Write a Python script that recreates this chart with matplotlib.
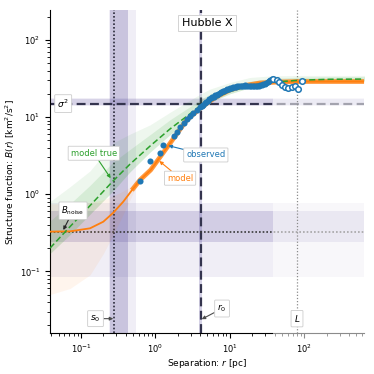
import numpy as np
import matplotlib
matplotlib.use("Agg")
import matplotlib.pyplot as plt

# ---------------- data ----------------
# observed structure function
obs_r = [0.623, 0.857, 1.167, 1.281, 1.767, 1.957, 2.168, 2.431, 2.668, 2.954,
         3.242, 3.601, 3.99, 4.18, 4.377, 4.58, 4.80, 5.03, 5.27, 5.52, 5.78,
         6.06, 6.35, 6.65, 6.96, 7.29, 7.64, 8.00, 8.38, 8.78, 9.20, 9.63,
         10.09, 10.57, 11.07, 11.6, 12.15, 12.7, 13.33, 13.96, 14.63, 15.33,
         16.06, 16.8, 17.62, 18.45, 19.33, 20.25, 21.22, 22.2, 23.28, 24.4,
         25.55, 26.8, 28.04, 29.4, 30.77, 32.2, 33.77, 35.1, 36.47,
         38.5, 42.8, 46.4, 50.0, 55.4, 61.4, 68.1, 75.5, 83.6, 92.9]
obs_B = [1.48, 2.72, 3.45, 4.38, 5.62, 6.34, 7.42, 8.44, 9.34, 10.3,
         11.2, 12.3, 13.4, 13.9, 14.5, 15.0, 15.6, 16.2, 16.9, 17.4, 17.9,
         18.4, 19.0, 19.5, 20.1, 20.6, 21.1, 21.5, 22.0, 22.4, 22.9, 23.3,
         23.7, 24.0, 24.3, 24.5, 24.8, 25.0, 25.2, 25.3, 25.4, 25.5,
         25.6, 25.5, 25.4, 25.3, 25.2, 25.15, 25.1, 25.15, 25.2, 25.4,
         25.6, 26.0, 26.4, 27.0, 27.6, 28.4, 29.2, 29.9, 30.6,
         31.0, 30.1, 28.4, 26.0, 24.3, 23.6, 24.7, 25.0, 23.1, 29.2]
r_fit_max = 38.0

# "model true" (green) median and ensemble envelopes
true_r = [0.0384, 0.0714, 0.1324, 0.270, 0.457, 0.849, 1.576, 2.93, 4.11,
          5.43, 10.09, 18.75, 34.8, 88.1, 222.8, 700.0]
true_B = [0.20, 0.38, 0.71, 1.48, 2.45, 4.2, 7.0, 11.0, 14.2,
          16.5, 21.5, 25.5, 28.0, 30.0, 30.8, 31.0]
true_hi = [0.80, 1.25, 2.0, 4.6, 6.0, 7.9, 11.5, 16.5, 20.0,
           23.0, 28.0, 32.5, 34.0, 34.5, 34.5, 34.5]
true_lo = [0.17, 0.30, 0.55, 1.10, 1.95, 3.5, 5.9, 9.5, 13.0,
           15.5, 20.0, 24.0, 27.0, 28.8, 29.2, 29.3]
true_hi_core = [0.45, 0.75, 1.3, 2.6, 3.8, 5.9, 9.2, 13.6, 17.0,
                19.8, 24.8, 29.0, 31.5, 32.8, 33.2, 33.3]

# "model" (orange) median and ensemble envelopes
mod_r = [0.0384, 0.0714, 0.1324, 0.200, 0.2726, 0.371, 0.506, 0.623, 0.867,
         1.167, 1.576, 2.04, 2.64, 3.99, 6.35, 10.09, 16.06, 25.55, 47.4,
         88.1, 700.0]
mod_B = [0.327, 0.330, 0.361, 0.440, 0.576, 0.80, 1.19, 1.53, 2.06,
         3.06, 4.56, 6.45, 9.14, 12.9, 17.9, 22.4, 25.6, 27.6, 28.4,
         28.8, 28.8]
mod_hi = [0.75, 0.75, 0.78, 0.85, 0.95, 1.1, 1.3, 1.65, 2.22,
          3.3, 4.9, 6.9, 9.8, 13.8, 19.0, 23.6, 27.0, 29.5, 30.6,
          30.9, 30.9]
mod_lo = [0.05, 0.06, 0.09, 0.17, 0.30, 0.55, 1.05, 1.42, 1.92,
          2.85, 4.25, 6.0, 8.5, 12.0, 16.7, 21.0, 24.2, 26.2, 27.2,
          27.5, 27.5]

# fitted parameters and their uncertainty bands
s0, s0_1sig, s0_2sig = 0.279, (0.245, 0.43), (0.235, 0.55)
r0, r0_band = 4.11, (3.9, 4.3)
L_size = 80.2
sig2, sig2_band, sig2_band2 = 14.9, (14.3, 16.9), (13.9, 17.4)
Bnoise, Bnoise_1sig, Bnoise_2sig = 0.324, (0.243, 0.605), (0.085, 0.76)

xlim = (0.0384, 638)
ylim = (0.0159, 243)

# ---------------- plot ----------------
blue, orange, green = "#1f77b4", "#ff7f0e", "#2ca02c"
band = "#5a4c9c"

fig = plt.figure(figsize=(3.74, 3.74), dpi=100)
ax = fig.add_axes([0.1337, 0.1096, 0.8396, 0.8636])
ax.set_xscale("log")
ax.set_yscale("log")

# uncertainty bands
ax.axvspan(*s0_2sig, color=band, alpha=0.09, lw=0, zorder=0)
ax.axvspan(*s0_1sig, color=band, alpha=0.26, lw=0, zorder=0)
ax.axvspan(*r0_band, color=band, alpha=0.25, lw=0, zorder=0)
ax.axhspan(*Bnoise_2sig, color=band, alpha=0.09, lw=0, zorder=0)
ax.axhspan(*Bnoise_1sig, color=band, alpha=0.20, lw=0, zorder=0)
ax.axhspan(*sig2_band2, color=band, alpha=0.09, lw=0, zorder=0)
ax.axhspan(*sig2_band, color=band, alpha=0.16, lw=0, zorder=0)

# reference lines
ax.axvline(s0, color="#2a2a3a", ls=(0, (1, 1.2)), lw=1.2, zorder=1)
ax.axvline(r0, color="#34344e", ls=(0, (4, 2)), lw=1.6, zorder=1)
ax.axhline(sig2, color="#34344e", ls=(0, (4, 2)), lw=1.6, zorder=1)
ax.axhline(Bnoise, color="#3a3a3a", ls=(0, (1, 1.2)), lw=1.2, zorder=1)

# white veil beyond fitted range (also lightens spine/ticks)
veil = plt.Rectangle((r_fit_max, -0.03), xlim[1] * 2, 1.03,
                     transform=ax.get_xaxis_transform(), color="white",
                     alpha=0.55, lw=0, zorder=2.6, clip_on=False)
ax.add_patch(veil)

ax.axvline(L_size, color="0.55", ls=(0, (1, 1.5)), lw=0.9, zorder=3)

# model ensembles
ax.fill_between(true_r, true_lo, true_hi, color=green, alpha=0.08, lw=0, zorder=3)
ax.fill_between(true_r, true_lo, true_hi_core, color=green, alpha=0.12, lw=0,
                zorder=3)
ax.fill_between(mod_r, mod_lo, mod_hi, color=orange, alpha=0.07, lw=0, zorder=3)
ax.plot(mod_r, mod_B, color=orange, lw=1.3, zorder=3.5)
ax.plot(mod_r[6:], mod_B[6:], color=orange, lw=3.4, alpha=0.8, zorder=3.5)
ax.plot(true_r, true_B, color=green, lw=1.1, ls=(0, (4, 2)), zorder=3.6)

# observations
obs_r = np.array(obs_r)
obs_B = np.array(obs_B)
m = obs_r <= r_fit_max
ax.plot(obs_r[m], obs_B[m], "o", color=blue, ms=4.4, mew=0, zorder=5)
ax.plot(obs_r[~m], obs_B[~m], "o", mfc="white", mec=blue, ms=4.0, mew=1.1,
        zorder=5)

ax.set_xlim(*xlim)
ax.set_ylim(*ylim)

for s in ("top", "right"):
    ax.spines[s].set_visible(False)
ax.tick_params(which="both", labelsize=6, direction="out")
ax.tick_params(which="major", length=3.5, width=0.8)
ax.tick_params(which="minor", length=2, width=0.6)
ax.set_xlabel("Separation: $r$ [pc]", fontsize=6.5, labelpad=1)
ax.set_ylabel("Structure function: $B(r)$ [km$^2$/s$^2$]", fontsize=6.5,
              labelpad=2)

box = dict(boxstyle="round,pad=0.3,rounding_size=0.1", fc="white",
           ec="0.8", lw=0.6)
arrow = lambda c: dict(arrowstyle="-|>", color=c, lw=0.8, mutation_scale=5,
                       shrinkA=0, shrinkB=0)

ax.text(0.5, 0.96, "Hubble X", transform=ax.transAxes, ha="center",
        va="center", fontsize=8,
        bbox=dict(boxstyle="square,pad=0.3", fc="white", ec="0.8", lw=0.6),
        zorder=7)
ax.text(0.042, sig2, r"$\sigma^2$", transform=ax.get_yaxis_transform(),
        ha="center", va="center", fontsize=6.5, bbox=box, zorder=7)
ax.annotate("model true", xy=(0.251, 1.61), xytext=(0.149, 3.39),
            ha="center", va="center", fontsize=6, color=green, bbox=box,
            arrowprops=arrow(green), zorder=7)
ax.annotate("observed", xy=(1.50, 4.25), xytext=(4.77, 3.22),
            ha="center", va="center", fontsize=6, color=blue, bbox=box,
            arrowprops=arrow(blue), zorder=7)
ax.annotate("model", xy=(1.13, 2.69), xytext=(2.15, 1.61),
            ha="center", va="center", fontsize=6, color=orange, bbox=box,
            arrowprops=arrow(orange), zorder=7)
ax.annotate(r"$B_\mathrm{noise}$", xy=(0.058, 0.343), xytext=(0.0783, 0.61),
            ha="center", va="center", fontsize=6, color="black", bbox=box,
            arrowprops=arrow("0.15"), zorder=7)
ax.annotate(r"$s_0$", xy=(0.272, 0.0244), xytext=(0.157, 0.0244),
            ha="center", va="center", fontsize=6.5, bbox=box,
            arrowprops=arrow("0.3"), zorder=7)
ax.annotate(r"$r_0$", xy=(4.2, 0.024), xytext=(7.88, 0.033),
            ha="center", va="center", fontsize=6.5, bbox=box,
            arrowprops=arrow("0.3"), zorder=7)
ax.text(L_size, 0.0244, r"$L$", ha="center", va="center", fontsize=6.5,
        bbox=box, zorder=7)

fig.savefig("out.png", dpi=100)
